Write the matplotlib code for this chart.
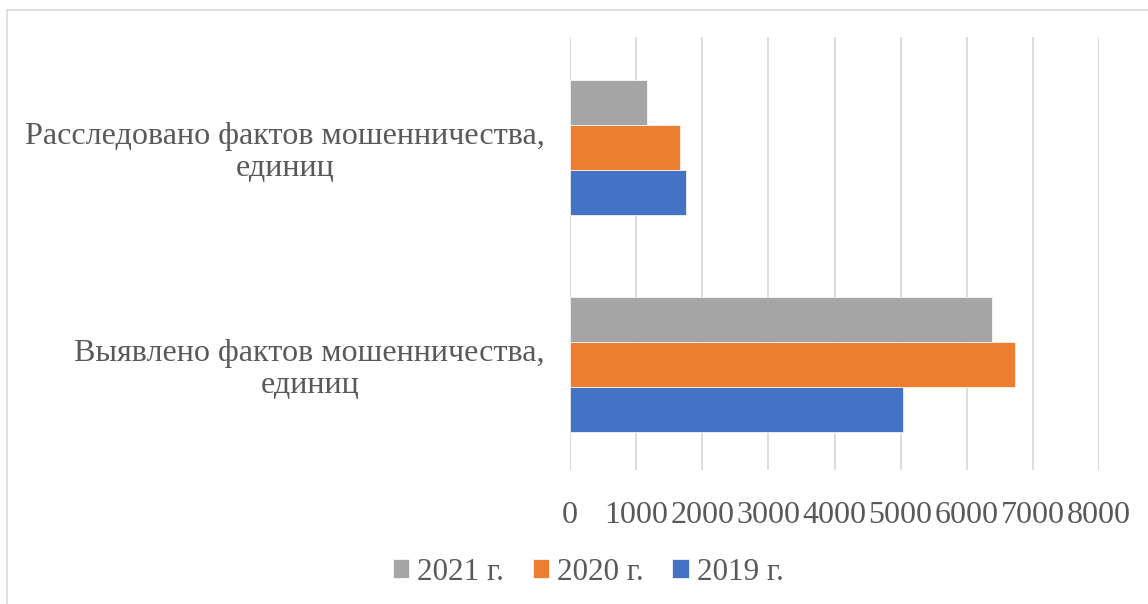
import matplotlib
import numpy as np

matplotlib.use("Agg")
import matplotlib.pyplot as plt
from matplotlib.patches import Rectangle

categories = ["Выявлено фактов мошенничества,\nединиц", "Расследовано фактов мошенничества,\nединиц"]
series = ["2019 г.", "2020 г.", "2021 г."]
values_2019 = [5040, 1753]
values_2020 = [6732, 1671]
values_2021 = [6386, 1171]
x_ticks = [0, 1000, 2000, 3000, 4000, 5000, 6000, 7000, 8000]

colors = ["#4472C4", "#ED7D31", "#A5A5A5"]
text_color = "#595959"

plt.rcParams["font.family"] = ["Liberation Serif", "DejaVu Serif"]

fig = plt.figure(figsize=(11.48, 6.04), dpi=100)
ax = fig.add_axes([570 / 1148, 1 - 470 / 604, 529 / 1148, 433 / 604])

# outer chart border
fig.patches.append(Rectangle((7 / 1148, -0.1), 1.2, 1 - 10 / 604 + 0.1, transform=fig.transFigure,
                             fill=False, edgecolor="#D9D9D9", lw=1.2))

y = np.arange(len(categories))
h = 0.207
for i, (vals, name, c) in enumerate(zip([values_2019, values_2020, values_2021], series, colors)):
    ax.barh(y + (i - 1) * h, vals, height=h, color=c, label=name, edgecolor="white", lw=0.5)

ax.set_xlim(0, 8000)
ax.set_ylim(-0.486, 1.509)
ax.set_xticks(x_ticks)
ax.set_xticklabels([str(t) for t in x_ticks], fontsize=23, color=text_color)
ax.set_yticks(y)
ax.set_yticklabels(categories, fontsize=23.1, color=text_color, ha="right", multialignment="center",
                   linespacing=1.12)
ax.tick_params(axis="y", length=0, pad=18)
ax.tick_params(axis="x", length=0, pad=22)
ax.grid(axis="x", color="#D9D9D9", lw=1.3)
ax.set_axisbelow(True)
for s in ax.spines.values():
    s.set_visible(False)

handles, labels = ax.get_legend_handles_labels()
leg = fig.legend(handles[::-1], labels[::-1], loc="center", bbox_to_anchor=(588 / 1148, 1 - 572 / 604),
                 ncol=3, frameon=False, fontsize=22.4, handlelength=0.52, handleheight=0.52,
                 handletextpad=0.26, columnspacing=0.93)
for t in leg.get_texts():
    t.set_color(text_color)

fig.savefig("out.png", dpi=100)
